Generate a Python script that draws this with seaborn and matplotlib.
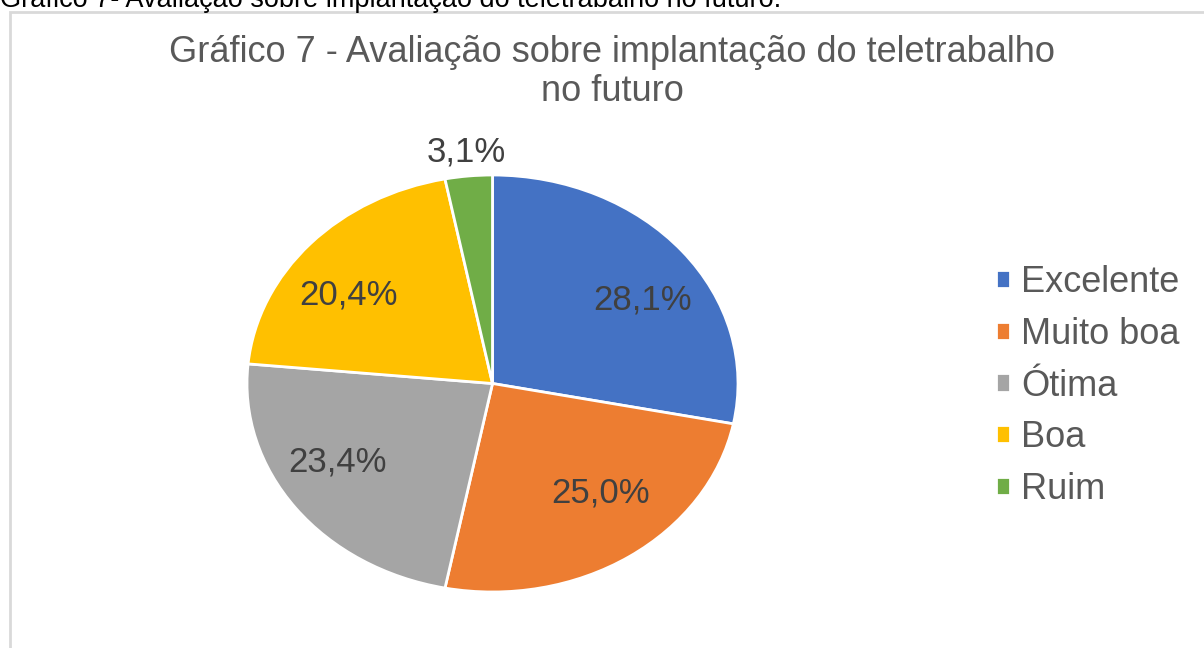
import matplotlib
matplotlib.use('Agg')
import matplotlib.pyplot as plt
import matplotlib.patches as mpatches
import numpy as np
import seaborn as sns

categories = ['Excelente', 'Muito boa', 'Ótima', 'Boa', 'Ruim']
values = [28.1, 25.0, 23.4, 20.4, 3.1]
colors = ['#4472C4', '#ED7D31', '#A5A5A5', '#FFC000', '#70AD47']
caption = 'Gráfico 7- Avaliação sobre implantação do teletrabalho no futuro.'
title = 'Gráfico 7 - Avaliação sobre implantação do teletrabalho\nno futuro'

sns.set_theme(style='white')
plt.rcParams['font.family'] = ['Liberation Sans', 'DejaVu Sans']

W, H = 1204, 648
fig = plt.figure(figsize=(W / 100, H / 100), dpi=100)

# pie area (Excel draws it a bit wider than tall)
ax = fig.add_axes([247 / W, (H - 592) / H, 491 / W, 417 / H])
wedges, texts, autotexts = ax.pie(
    values,
    colors=sns.color_palette(colors),
    startangle=90,
    counterclock=False,
    autopct=lambda p: f'{p:.1f}%'.replace('.', ','),
    wedgeprops=dict(edgecolor='white', linewidth=2),
    textprops=dict(fontsize=25, color='#404040'),
)
ax.set_aspect('auto')
ax.set_xlim(-1, 1)
ax.set_ylim(-1, 1)

# place labels like excel does (pushed a bit towards the sides)
for w, t in zip(wedges, autotexts):
    ang = np.deg2rad((w.theta1 + w.theta2) / 2)
    if w.theta2 - w.theta1 < 20:
        # small slice label goes outside
        t.set_position((1.115 * np.cos(ang), 1.115 * np.sin(ang)))
    else:
        t.set_position((0.79 * np.cos(ang), 0.63 * np.sin(ang)))

leg = fig.legend(wedges, categories, loc='center left',
                 bbox_to_anchor=(963 / W, 1 - 386 / H), frameon=False,
                 fontsize=26, handlelength=0.4, handleheight=0.4,
                 handletextpad=0.3, labelspacing=0.46, labelcolor='#595959')

fig.text(612 / W, 1 - 72 / H, title, ha='center', va='center',
         fontsize=26, color='#595959', linespacing=1.14)

# chart border and cropped caption from the document
fig.add_artist(mpatches.Rectangle((10 / W, -0.1), 1.2, 1.1 - 12 / H,
                                  transform=fig.transFigure, fill=False,
                                  edgecolor='#D9D9D9', linewidth=2))
fig.text(0, 1 - 7 / H, caption, ha='left', va='baseline',
         fontsize=19.5, color='black')

fig.savefig('out.png', dpi=100)
